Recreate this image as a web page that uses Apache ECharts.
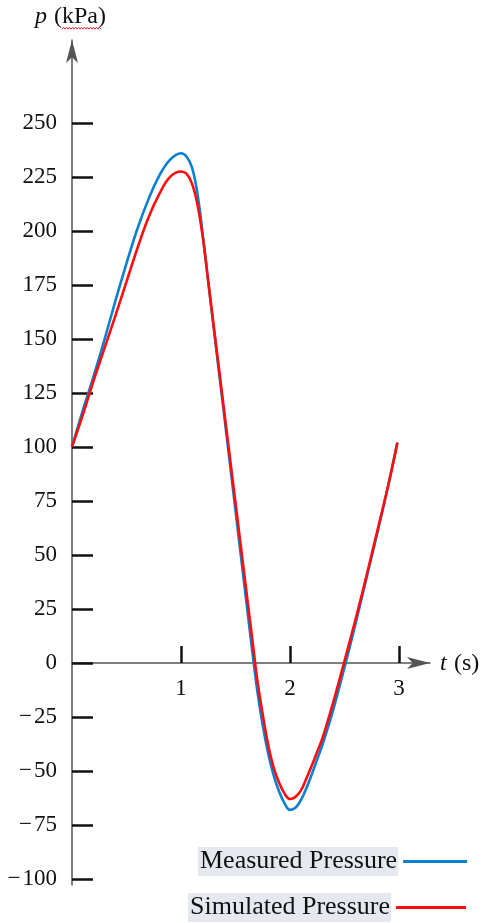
<!DOCTYPE html>
<html>
<head>
<meta charset="utf-8">
<style>
  html, body { margin: 0; padding: 0; background: #ffffff; }
  #chart { width: 484px; height: 923px; }
</style>
<script src="https://cdn.jsdelivr.net/npm/echarts@6/dist/echarts.min.js"></script>
</head>
<body>
<div id="chart"></div>
<script>
// ---- data ----
const measuredT = [0.00, 0.10, 0.20, 0.30, 0.40, 0.50, 0.60, 0.70, 0.80, 0.90, 1.00, 1.05, 1.10, 1.15, 1.20, 1.25, 1.30, 1.40, 1.50, 1.60, 1.65, 1.70, 1.75, 1.80, 1.85, 1.90, 1.95, 2.00, 2.05, 2.10, 2.15, 2.20, 2.25, 2.30, 2.40, 2.50, 2.60, 2.70, 2.80, 2.90, 2.985];
const measuredP = [100, 117, 133, 150, 168, 185, 201, 214.5, 225.5, 233, 236, 234.5, 229.5, 217.5, 198, 176.5, 155, 113, 70.5, 28, 7, -13, -29, -42, -52, -59.5, -65, -68, -67, -63.5, -58, -51.5, -44.5, -37.5, -21, -2, 18, 39, 60, 82, 102];
const simulatedT = [0.00, 0.10, 0.20, 0.30, 0.40, 0.50, 0.60, 0.70, 0.80, 0.90, 1.00, 1.05, 1.10, 1.15, 1.20, 1.25, 1.30, 1.40, 1.50, 1.60, 1.65, 1.70, 1.75, 1.80, 1.85, 1.90, 1.95, 2.00, 2.05, 2.10, 2.15, 2.20, 2.25, 2.30, 2.40, 2.50, 2.60, 2.70, 2.80, 2.90, 2.985];
const simulatedP = [100, 115, 131, 146, 161, 176.5, 192, 206, 217, 225, 227.5, 226.5, 222, 212.5, 197, 176.5, 156, 115, 74, 33, 12.5, -8, -24, -38, -48.5, -55.5, -60.5, -63, -62, -59, -53.5, -47.5, -41, -34.5, -17.5, 1, 20, 40, 61, 82, 102];
const yTickValues = [-100, -75, -50, -25, 0, 25, 50, 75, 100, 125, 150, 175, 200, 225, 250];
const xTickValues = [1, 2, 3];
const seriesNames = ['Measured Pressure', 'Simulated Pressure'];

const pairs = (xs, ys) => xs.map((x, i) => [x, ys[i]]);

const serif = '"Liberation Serif", "DejaVu Serif", serif';
const chart = echarts.init(document.getElementById('chart'), null, { renderer: 'canvas' });

const yMin = -102.8, yMax = 288.4;
const gridTop = 40, gridBottom = 38, chartH = 923;
const plotH = chartH - gridTop - gridBottom;
const zeroOffset = Math.round((0 - yMin) / (yMax - yMin) * plotH);

// small wavy underline (spell-check squiggle) under "kPa"
const squiggle = [];
for (let x = 62, k = 0; x <= 102; x += 1.5, k++) squiggle.push([x, k % 2 ? 27.2 : 29.2]);

const option = {
  animation: false,
  backgroundColor: '#ffffff',
  grid: { left: 72, right: 54, top: gridTop, bottom: gridBottom, containLabel: false },
  xAxis: {
    type: 'value', min: 0, max: 3.284, offset: -zeroOffset,
    axisLine: { onZero: false, symbol: ['none', 'arrow'], symbolSize: [9, 23],
      lineStyle: { color: '#555555', width: 1.5 } },
    axisTick: { show: true, inside: true, length: 17, customValues: xTickValues,
      lineStyle: { color: '#111111', width: 2.5 } },
    axisLabel: { show: true, customValues: xTickValues, margin: 14,
      fontFamily: serif, fontSize: 23, color: '#111111' },
    splitLine: { show: false }
  },
  yAxis: {
    type: 'value', min: yMin, max: yMax,
    axisLine: { show: true, onZero: false, symbol: ['none', 'arrow'], symbolSize: [9, 23],
      lineStyle: { color: '#555555', width: 1.5 } },
    axisTick: { show: true, inside: true, length: 21, customValues: yTickValues,
      lineStyle: { color: '#111111', width: 2.5 } },
    axisLabel: { show: true, customValues: yTickValues, margin: 15,
      fontFamily: serif, fontSize: 23, color: '#111111',
      formatter: v => v < 0 ? '\u2212\u200a' + Math.abs(v) : String(v) },
    splitLine: { show: false }
  },
  legend: [
    { data: [seriesNames[0]], left: 193, top: 842, orient: 'vertical', align: 'right',
      icon: 'rect', itemWidth: 64, itemHeight: 3, itemGap: 0,
      textStyle: { fontFamily: serif, fontSize: 26, color: '#111111', backgroundColor: '#e6e8ef', padding: [2, 1, 1, 2] } },
    { data: [seriesNames[1]], left: 183, top: 888, orient: 'vertical', align: 'right',
      icon: 'rect', itemWidth: 70, itemHeight: 3, itemGap: 0,
      textStyle: { fontFamily: serif, fontSize: 26, color: '#111111', backgroundColor: '#e6e8ef', padding: [2, 1, 1, 2] } }
  ],
  series: [
    { name: seriesNames[0], type: 'line', data: pairs(measuredT, measuredP), smooth: 0.4,
      showSymbol: false, color: '#0b7fd0', lineStyle: { color: '#0b7fd0', width: 2.6 }, z: 2 },
    { name: seriesNames[1], type: 'line', data: pairs(simulatedT, simulatedP), smooth: 0.4,
      showSymbol: false, color: '#ff0d0d', lineStyle: { color: '#ff0d0d', width: 2.6 }, z: 3 }
  ],
  graphic: [
    { type: 'text', left: 35, top: 5, style: { text: 'p', font: 'italic 24px ' + serif, fill: '#111111' } },
    { type: 'text', left: 54, top: 5, style: { text: '(kPa)', font: '24px ' + serif, fill: '#111111' } },
    { type: 'polyline', shape: { points: squiggle }, style: { stroke: '#e8323c', lineWidth: 1, fill: null } },
    { type: 'text', left: 440, top: 652, style: { text: 't', font: 'italic 24px ' + serif, fill: '#111111' } },
    { type: 'text', left: 454, top: 652, style: { text: '(s)', font: '24px ' + serif, fill: '#111111' } }
  ]
};
chart.setOption(option);
</script>
</body>
</html>
